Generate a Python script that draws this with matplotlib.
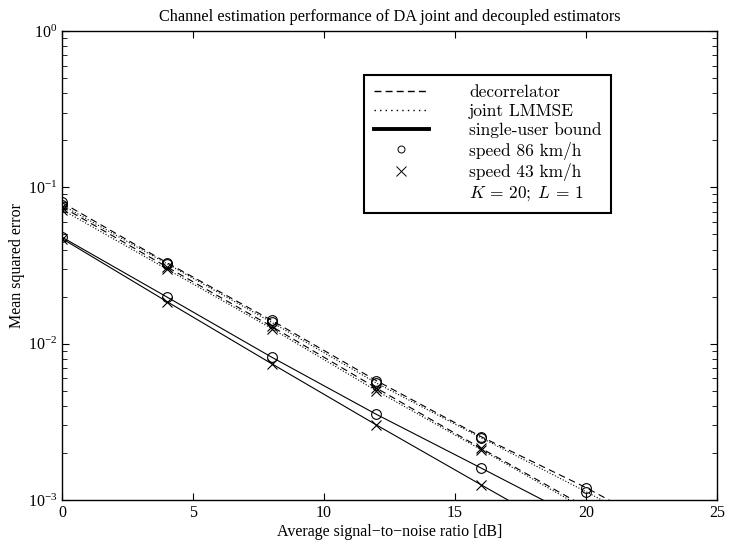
import matplotlib
matplotlib.use('Agg')
import matplotlib.pyplot as plt
from matplotlib.lines import Line2D
from matplotlib.ticker import LogLocator

plt.rcParams['font.family'] = ['Liberation Serif', 'DejaVu Serif']
plt.rcParams['mathtext.fontset'] = 'stix'

snr = [0, 4, 8, 12, 16, 20, 24]

# upper group: decorrelator (dashed) and joint LMMSE (dotted)
dec_86 = [0.080, 0.033, 0.0141, 0.0058, 0.00254, 0.00120, 0.00052]
lmmse_86 = [0.077, 0.0325, 0.0137, 0.0056, 0.00250, 0.00113, 0.00050]
dec_43 = [0.075, 0.031, 0.0129, 0.0052, 0.00214, 0.00090, 0.00040]
lmmse_43 = [0.072, 0.030, 0.0125, 0.0050, 0.00210, 0.00087, 0.00038]

# single-user bound (solid)
su_86 = [0.048, 0.0199, 0.0082, 0.00353, 0.0016, 0.00072, 0.00033]
su_43 = [0.047, 0.0186, 0.00745, 0.00302, 0.00125, 0.00052, 0.00022]

legend_labels = ['decorrelator', 'joint LMMSE', 'single-user bound',
                 'speed 86 km/h', 'speed 43 km/h', r'$K\,=\,20;\;L\,=\,1$']

fig = plt.figure(figsize=(7.29, 5.44), dpi=100)
ax = fig.add_axes([62/729, 44/544, 655/729, 469/544])

dash = (0, (6, 4))
lw = 0.8
ms = 7
mk = dict(color='black', lw=lw, markersize=ms, markerfacecolor='none', markeredgewidth=0.8)

ax.plot(snr, dec_86, linestyle=dash, marker='o', **mk)
ax.plot(snr, lmmse_86, linestyle=':', marker='o', **mk)
ax.plot(snr, dec_43, linestyle=dash, marker='x', **mk)
ax.plot(snr, lmmse_43, linestyle=':', marker='x', **mk)
ax.plot(snr, su_86, linestyle='-', marker='o', **mk)
ax.plot(snr, su_43, linestyle='-', marker='x', **mk)

ax.set_yscale('log')
ax.set_xlim(0, 25)
ax.set_ylim(1e-3, 1)
ax.set_xticks([0, 5, 10, 15, 20, 25])
ax.yaxis.set_major_locator(LogLocator(base=10))
ax.yaxis.set_minor_locator(LogLocator(base=10, subs=range(2, 10)))
ax.tick_params(which='both', direction='in', top=True, right=True, labelsize=11.5)
ax.tick_params(which='major', length=5)
ax.tick_params(which='minor', length=3.5)
for s in ax.spines.values():
    s.set_linewidth(1.0)

ax.set_title('Channel estimation performance of DA joint and decoupled estimators',
             fontsize=11.7, pad=7)
ax.set_xlabel('Average signal\u2212to\u2212noise ratio [dB]', fontsize=11.5, labelpad=2)
ax.set_ylabel('Mean squared error', fontsize=11.5, labelpad=2)

handles = [
    Line2D([], [], color='black', lw=1.0, linestyle=(0, (5, 3))),
    Line2D([], [], color='black', lw=1.0, linestyle=(0, (1, 3))),
    Line2D([], [], color='black', lw=2.8, linestyle='-'),
    Line2D([], [], color='black', lw=0, marker='o', markersize=5,
           markerfacecolor='none', markeredgewidth=0.7),
    Line2D([], [], color='black', lw=0, marker='x', markersize=6.5, markeredgewidth=0.7),
    Line2D([], [], lw=0),
]
plt.rcParams['mathtext.fontset'] = 'cm'
leg = ax.legend(handles, legend_labels, loc='upper left',
                bbox_to_anchor=(0.461, 0.906), prop={'family': 'cmr10', 'size': 12.5},
                frameon=True, fancybox=False, edgecolor='black', framealpha=1,
                handlelength=3.2, handletextpad=2.3, labelspacing=0.2,
                borderpad=0.55, borderaxespad=0)
leg.get_frame().set_linewidth(1.5)

fig.savefig('out.png', dpi=100)
